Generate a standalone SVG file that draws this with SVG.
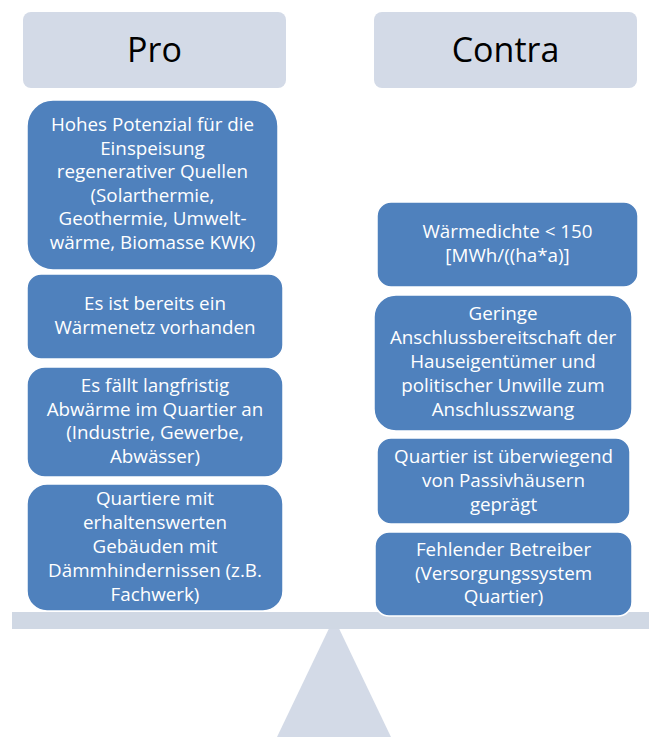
<svg xmlns="http://www.w3.org/2000/svg" width="652" height="737" viewBox="0 0 652 737">
<style>
.hdr{fill:#D3DAE7}
.box{fill:#4F81BD;stroke:#FFFFFF;stroke-width:1.5}
.ht{font-family:"Open Sans","Liberation Sans",sans-serif;font-size:34px;fill:#000000;text-anchor:middle}
.bt{font-family:"Open Sans","Liberation Sans",sans-serif;font-size:18.8px;fill:#FFFFFF;text-anchor:middle}
</style>
<rect width="652" height="737" fill="#FFFFFF"/>
<g id="fulcrum"><polygon points="334,618 266,760 402,760" fill="#D3DAE7"/></g>
<g id="beam"><rect x="12" y="612" width="637" height="17" fill="#D0D8E4"/></g>
<g id="header-pro"><rect class="hdr" x="23" y="12" width="263" height="76" rx="8"/><text class="ht" x="154.5" y="62">Pro</text></g>
<g id="header-contra"><rect class="hdr" x="374" y="12" width="263" height="76" rx="8"/><text class="ht" x="505.5" y="62">Contra</text></g>
<g id="pro-1"><rect class="box" x="27" y="100" width="251" height="170" rx="26"/>
<text class="bt" x="152.5"><tspan x="152.5" y="131">Hohes Potenzial für die</tspan><tspan x="152.5" y="154.6">Einspeisung</tspan><tspan x="152.5" y="178.2">regenerativer Quellen</tspan><tspan x="152.5" y="201.8">(Solarthermie,</tspan><tspan x="152.5" y="225.4">Geothermie, Umwelt-</tspan><tspan x="152.5" y="249">wärme, Biomasse KWK)</tspan></text></g>
<g id="pro-2"><rect class="box" x="27" y="274" width="256" height="85" rx="14"/>
<text class="bt"><tspan x="155" y="310">Es ist bereits ein</tspan><tspan x="155" y="333.5">Wärmenetz vorhanden</tspan></text></g>
<g id="pro-3"><rect class="box" x="27" y="367" width="256" height="110" rx="18"/>
<text class="bt"><tspan x="155" y="392">Es fällt langfristig</tspan><tspan x="155" y="415.5">Abwärme im Quartier an</tspan><tspan x="155" y="439">(Industrie, Gewerbe,</tspan><tspan x="155" y="462.5">Abwässer)</tspan></text></g>
<g id="pro-4"><rect class="box" x="27" y="484" width="256" height="127" rx="20"/>
<text class="bt"><tspan x="155" y="505">Quartiere mit</tspan><tspan x="155" y="529">erhaltenswerten</tspan><tspan x="155" y="553">Gebäuden mit</tspan><tspan x="155" y="577">Dämmhindernissen (z.B.</tspan><tspan x="155" y="601">Fachwerk)</tspan></text></g>
<g id="contra-1"><rect class="box" x="377" y="202" width="261" height="85" rx="14"/>
<text class="bt"><tspan x="507.5" y="238">Wärmedichte &lt; 150</tspan><tspan x="507.5" y="262">[MWh/((ha*a)]</tspan></text></g>
<g id="contra-2"><rect class="box" x="374" y="295" width="258" height="136" rx="22"/>
<text class="bt"><tspan x="503" y="320">Geringe</tspan><tspan x="503" y="344">Anschlussbereitschaft der</tspan><tspan x="503" y="368">Hauseigentümer und</tspan><tspan x="503" y="392">politischer Unwille zum</tspan><tspan x="503" y="416">Anschlusszwang</tspan></text></g>
<g id="contra-3"><rect class="box" x="377" y="438" width="253" height="86" rx="14"/>
<text class="bt"><tspan x="503.5" y="462.5">Quartier ist überwiegend</tspan><tspan x="503.5" y="486.5">von Passivhäusern</tspan><tspan x="503.5" y="510.5">geprägt</tspan></text></g>
<g id="contra-4"><rect class="box" x="375" y="532" width="257" height="84" rx="14"/>
<text class="bt"><tspan x="503.5" y="556">Fehlender Betreiber</tspan><tspan x="503.5" y="579.5">(Versorgungssystem</tspan><tspan x="503.5" y="603">Quartier)</tspan></text></g>
</svg>
